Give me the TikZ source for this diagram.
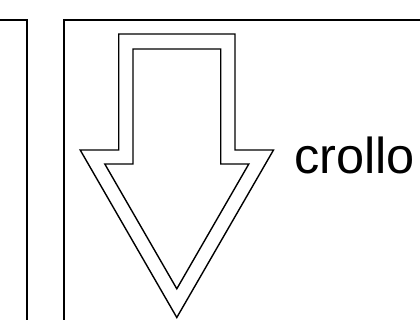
\documentclass[tikz,border=0pt]{standalone}
\usepackage{fontspec}
\setmainfont{Liberation Sans}
\begin{document}
\begin{tikzpicture}[x=1pt,y=-1pt,
  frame/.style={draw=black,line width=2pt},
  arrowline/.style={draw=black,line width=1.4pt,line join=miter},
  label/.style={font=\fontsize{50.5}{58}\selectfont,inner sep=0pt,anchor=base west}]
\useasboundingbox (0,0) rectangle (420,320);
\clip (0,0) rectangle (420,320);
% panels
\draw[frame] (-20,20) rectangle (26.5,340);
\draw[frame] (64,20) rectangle (440,340);
% outer arrow outline
\draw[arrowline] (118.7,34) -- (235,34) -- (235,150) -- (273.5,150) -- (176.8,317.5) -- (80.2,150) -- (118.7,150) -- cycle;
% inner arrow outline
\draw[arrowline] (133,49) -- (220.7,49) -- (220.7,164) -- (248.8,164) -- (176.8,288.8) -- (104.8,164) -- (133,164) -- cycle;
% label
\node[label] (t) at (294,173.5) {crollo};
\end{tikzpicture}
\end{document}
